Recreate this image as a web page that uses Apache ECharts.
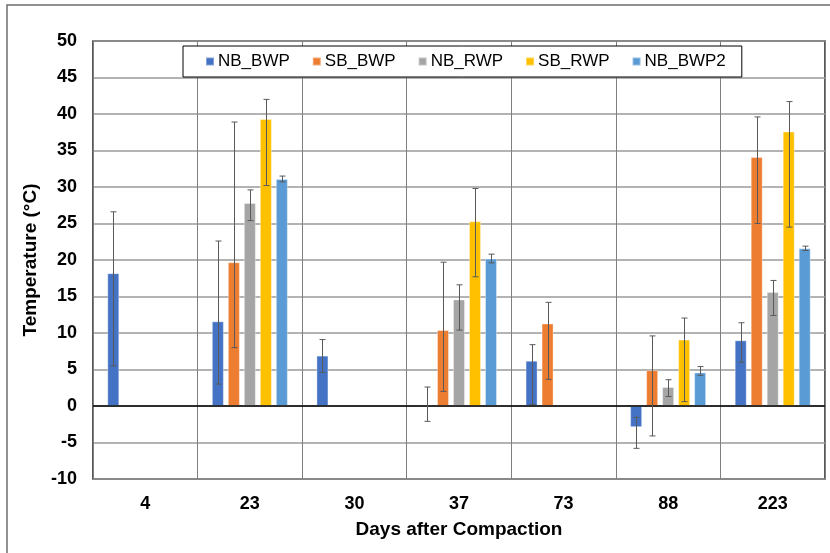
<!DOCTYPE html>
<html>
<head>
<meta charset="utf-8">
<script src="https://cdn.jsdelivr.net/npm/echarts@6/dist/echarts.min.js"></script>
<style>
html,body{margin:0;padding:0;background:#fff;}
#chart{width:830px;height:553px;}
</style>
</head>
<body>
<div id="chart"></div>
<script>
// ---- data ----
const categories = ['4', '23', '30', '37', '73', '88', '223'];
const seriesNames = ['NB_BWP', 'SB_BWP', 'NB_RWP', 'SB_RWP', 'NB_BWP2'];
const NB_BWP  = [18.2, 11.6, 6.9, 0.2, 6.2, -2.9, 9.0];
const SB_BWP  = [null, 19.7, null, 10.4, 11.3, 4.9, 34.1];
const NB_RWP  = [null, 27.8, null, 14.6, null, 2.6, 15.6];
const SB_RWP  = [null, 39.3, null, 25.3, null, 9.1, 37.6];
const NB_BWP2 = [null, 31.1, null, 20.2, null, 4.6, 21.6];
// error bar ends (low / high)
const NB_BWP_low  = [5.5, 3.0, 4.6, -2.1, 0.2, -5.8, 6.0];
const NB_BWP_high = [26.6, 22.6, 9.1, 2.6, 8.4, -1.55, 11.4];
const SB_BWP_low  = [null, 8.0, null, 2.0, 3.65, -4.1, 25.0];
const SB_BWP_high = [null, 38.9, null, 19.7, 14.2, 9.6, 39.6];
const NB_RWP_low  = [null, 25.4, null, 10.4, null, 1.3, 12.4];
const NB_RWP_high = [null, 29.6, null, 16.6, null, 3.6, 17.2];
const SB_RWP_low  = [null, 30.2, null, 17.7, null, 0.6, 24.5];
const SB_RWP_high = [null, 42.0, null, 29.8, null, 12.05, 41.7];
const NB_BWP2_low  = [null, 30.7, null, 19.6, null, 4.2, 21.3];
const NB_BWP2_high = [null, 31.5, null, 20.8, null, 5.4, 21.9];
const yTicks = [-10, -5, 0, 5, 10, 15, 20, 25, 30, 35, 40, 45, 50];

// ---- build ----
const values = [NB_BWP, SB_BWP, NB_RWP, SB_RWP, NB_BWP2];
const lows = [NB_BWP_low, SB_BWP_low, NB_RWP_low, SB_RWP_low, NB_BWP2_low];
const highs = [NB_BWP_high, SB_BWP_high, NB_RWP_high, SB_RWP_high, NB_BWP2_high];
const colors = ['#4472C4', '#ED7D31', '#A5A5A5', '#FFC000', '#5B9BD5'];
const BAR_W = 12, BAR_GAP = 4, PITCH = BAR_W + BAR_GAP;
const FONT = "'Liberation Sans', Arial, sans-serif";

const errData = [];
lows.forEach((arr, s) => arr.forEach((lo, c) => {
  if (lo !== null && highs[s][c] !== null) errData.push([c, s, lo, highs[s][c]]);
}));

const series = values.map((v, i) => ({
  name: seriesNames[i],
  type: 'bar',
  data: v,
  barWidth: BAR_W,
  barGap: (BAR_GAP / BAR_W * 100) + '%',
  itemStyle: { color: colors[i], borderColor: 'rgba(255,255,255,0.35)', borderWidth: 1 },
  markLine: i === 0 ? {
    silent: true, symbol: 'none', label: { show: false },
    lineStyle: { color: '#000', width: 1.5, type: 'solid' },
    data: [{ yAxis: 0 }]
  } : undefined
}));

series.push({
  type: 'custom',
  name: 'err',
  data: errData,
  encode: { x: 0, y: [2, 3] },
  z: 10,
  silent: true,
  renderItem: function (params, api) {
    const c = api.value(0), s = api.value(1);
    const top = api.coord([c, api.value(3)]);
    const bot = api.coord([c, api.value(2)]);
    const n = seriesNames.length;
    const x = Math.round(top[0] + (s - (n - 1) / 2) * PITCH) + 0.5;
    const hw = 3;
    const style = { stroke: '#595959', lineWidth: 1 };
    return {
      type: 'group',
      children: [
        { type: 'line', shape: { x1: x, y1: top[1], x2: x, y2: bot[1] }, style },
        { type: 'line', shape: { x1: x - hw, y1: top[1], x2: x + hw, y2: top[1] }, style },
        { type: 'line', shape: { x1: x - hw, y1: bot[1], x2: x + hw, y2: bot[1] }, style }
      ]
    };
  }
});

const chart = echarts.init(document.getElementById('chart'), null, { renderer: 'canvas' });
chart.setOption({
  animation: false,
  backgroundColor: '#fff',
  textStyle: { fontFamily: FONT },
  graphic: [{
    type: 'rect', z: -10, silent: true,
    shape: { x: 7, y: 5, width: 900, height: 700 },
    style: { fill: 'none', stroke: '#6e6e6e', lineWidth: 1.5 }
  }],
  grid: {
    left: 93, right: 5, top: 41, bottom: 74,
    show: true, borderColor: '#222', borderWidth: 1.5, backgroundColor: 'transparent'
  },
  legend: {
    data: seriesNames,
    left: 183, top: 46,
    orient: 'horizontal',
    icon: 'rect', itemWidth: 8, itemHeight: 8, itemGap: 22,
    padding: [7, 16, 7, 22],
    backgroundColor: '#fff', borderColor: '#000', borderWidth: 1,
    textStyle: { fontSize: 17, color: '#000', fontFamily: FONT, padding: [0, 0, 0, -1] },
    selectedMode: false
  },
  xAxis: {
    type: 'category',
    data: categories,
    axisLine: { show: false },
    axisTick: { show: false },
    axisLabel: { fontSize: 18, fontWeight: 'bold', color: '#000', margin: 16, fontFamily: FONT },
    splitLine: { show: true, lineStyle: { color: '#7f7f7f', width: 1 } },
    name: 'Days after Compaction',
    nameLocation: 'middle',
    nameGap: 41,
    nameTextStyle: { fontSize: 19, fontWeight: 'bold', color: '#000', fontFamily: FONT }
  },
  yAxis: {
    type: 'value',
    min: yTicks[0], max: yTicks[yTicks.length - 1], interval: yTicks[1] - yTicks[0],
    axisLine: { show: false },
    axisTick: { show: false },
    axisLabel: { fontSize: 18, fontWeight: 'bold', color: '#000', margin: 16, fontFamily: FONT },
    splitLine: { show: true, lineStyle: { color: '#9a9a9a', width: 1.5 } },
    name: 'Temperature (°C)',
    nameLocation: 'middle',
    nameGap: 46,
    nameTextStyle: { fontSize: 19, fontWeight: 'bold', color: '#000', fontFamily: FONT }
  },
  series: series
});
</script>
</body>
</html>
